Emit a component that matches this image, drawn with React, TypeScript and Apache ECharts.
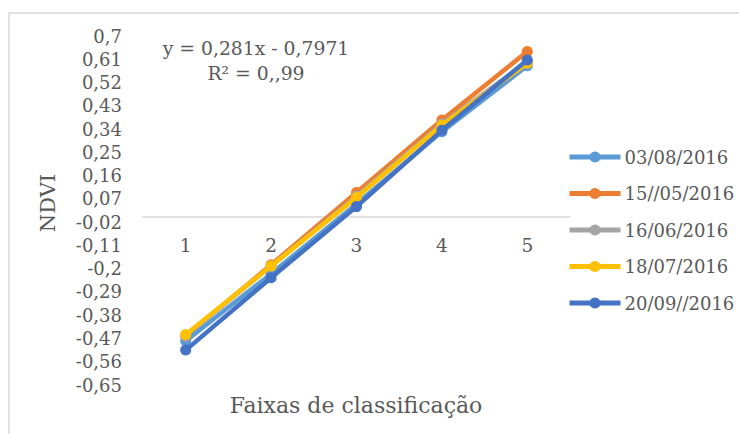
import React, { useEffect, useRef } from "react";
import * as echarts from "echarts";

const categories = ["1", "2", "3", "4", "5"];
const seriesNames = ["03/08/2016", "15//05/2016", "16/06/2016", "18/07/2016", "20/09//2016"];
const s0308 = [-0.48, -0.22, 0.05, 0.33, 0.585];
const s1505 = [-0.46, -0.185, 0.095, 0.375, 0.64];
const s1606 = [-0.46, -0.19, 0.08, 0.36, 0.6];
const s1807 = [-0.455, -0.19, 0.075, 0.355, 0.595];
const s2009 = [-0.515, -0.235, 0.04, 0.335, 0.607];
const seriesColors = ["#5B9BD5", "#ED7D31", "#A5A5A5", "#FFC000", "#4472C4"];
const yMin = -0.65;
const yMax = 0.7;
const yStep = 0.09;

const FONT = "DejaVu Serif";
const TXT = "#595959";

export default function App() {
  const ref = useRef<HTMLDivElement>(null);
  useEffect(() => {
    if (!ref.current) return;
    const chart = echarts.init(ref.current, null, { renderer: "svg" });
    const data = [s0308, s1505, s1606, s1807, s2009];
    const gridTop = 36;
    const gridBottom = 49;
    const plotH = 434 - gridTop - gridBottom;
    const zeroOffset = -(plotH * (0 - yMin)) / (yMax - yMin);
    chart.setOption({
      animation: false,
      backgroundColor: "#ffffff",
      grid: { left: 143, right: 169, top: gridTop, bottom: gridBottom, containLabel: false },
      legend: {
        orient: "vertical",
        left: 567,
        top: 148,
        itemWidth: 51,
        itemHeight: 14,
        itemGap: 18.5,
        padding: 0,
        data: seriesNames,
        lineStyle: { width: 5 },
        textStyle: { fontFamily: FONT, fontSize: 18, color: TXT, padding: [0, 0, 0, -1] },
      },
      xAxis: {
        type: "category",
        data: categories,
        boundaryGap: true,
        offset: zeroOffset,
        axisLine: { onZero: false, lineStyle: { color: "#D9D9D9", width: 1.5 } },
        axisTick: { show: false },
        axisLabel: { margin: 19, fontFamily: FONT, fontSize: 18.5, color: TXT },
      },
      yAxis: {
        type: "value",
        min: yMin,
        max: yMax,
        interval: yStep,
        axisLine: { show: false },
        axisTick: { show: false },
        splitLine: { show: false },
        axisLabel: {
          margin: 21,
          fontFamily: FONT,
          fontSize: 18,
          color: TXT,
          formatter: (v: number) => String(Math.round(v * 100) / 100).replace(".", ","),
        },
      },
      series: seriesNames.map((name, i) => ({
        name,
        type: "line",
        data: data[i],
        symbol: "circle",
        symbolSize: 11,
        lineStyle: { width: 4.5, color: seriesColors[i] },
        itemStyle: { color: seriesColors[i] },
        z: 2 + i,
      })),
      graphic: [
        {
          type: "rect",
          shape: { x: 9, y: 13, width: 900, height: 600 },
          style: { fill: "none", stroke: "#D9D9D9", lineWidth: 1.5 },
          silent: true,
        },
        {
          type: "text",
          x: 256,
          y: 48,
          style: { text: "y = 0,281x - 0,7971", fontFamily: FONT, fontSize: 18.8, fill: TXT, align: "center", verticalAlign: "middle" },
        },
        {
          type: "text",
          x: 256,
          y: 73,
          style: { text: "R² = 0,,99", fontFamily: FONT, fontSize: 18.8, fill: TXT, align: "center", verticalAlign: "middle" },
        },
        {
          type: "text",
          x: 48,
          y: 203,
          rotation: Math.PI / 2,
          style: { text: "NDVI", fontFamily: FONT, fontSize: 21, fill: TXT, align: "center", verticalAlign: "middle" },
        },
        {
          type: "text",
          x: 356,
          y: 405,
          style: { text: "Faixas de classificação", fontFamily: FONT, fontSize: 22, fill: TXT, align: "center", verticalAlign: "middle" },
        },
      ],
    });
    return () => chart.dispose();
  }, []);
  return (
    <div
      ref={ref}
      style={{ position: "fixed", left: 0, top: 0, width: 739, height: 434, background: "#fff" }}
    />
  );
}
